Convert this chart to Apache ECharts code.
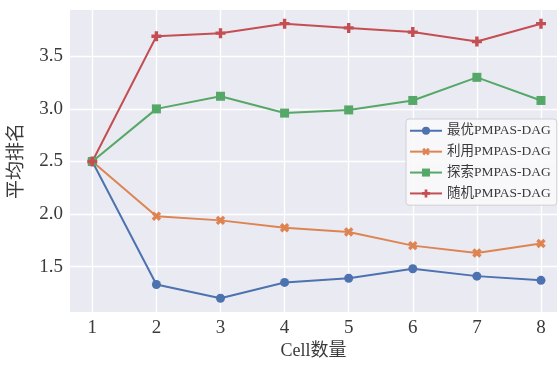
<!DOCTYPE html>
<html>
<head>
<meta charset="utf-8">
<script src="https://cdn.jsdelivr.net/npm/echarts@6/dist/echarts.min.js"></script>
<style>
  html, body { margin: 0; padding: 0; background: #ffffff; }
  #chart { width: 559px; height: 365px; }
</style>
</head>
<body>
<div id="chart"></div>
<script>
// Number of cells on the x axis
const cellCounts = [1, 2, 3, 4, 5, 6, 7, 8];

// Average rank per strategy
const bestRank    = [2.50, 1.33, 1.20, 1.35, 1.39, 1.48, 1.41, 1.37];
const exploitRank = [2.50, 1.98, 1.94, 1.87, 1.83, 1.70, 1.63, 1.72];
const exploreRank = [2.50, 3.00, 3.12, 2.96, 2.99, 3.08, 3.30, 3.08];
const randomRank  = [2.50, 3.69, 3.72, 3.81, 3.77, 3.73, 3.64, 3.81];

const seriesNames = ['最优PMPAS-DAG', '利用PMPAS-DAG', '探索PMPAS-DAG', '随机PMPAS-DAG'];

// Tick positions
const xTicks = [1, 2, 3, 4, 5, 6, 7, 8];
const yTicks = [1.5, 2.0, 2.5, 3.0, 3.5];

const serif = '"Liberation Serif", "Noto Sans CJK SC", serif';
const textColor = '#3a3a3a';
const plusPath = 'path://M3.3,0H6.7V3.3H10V6.7H6.7V10H3.3V6.7H0V3.3H3.3Z';

function pairs(values) {
  return cellCounts.map((c, i) => [c, values[i]]);
}

function lineSeries(name, values, color, symbol, size, rotate) {
  return {
    name: name,
    type: 'line',
    data: pairs(values),
    symbol: symbol,
    symbolSize: size,
    symbolRotate: rotate || 0,
    showAllSymbol: true,
    clip: false,
    lineStyle: { color: color, width: 2 },
    itemStyle: { color: color, borderWidth: 0 },
    emphasis: { disabled: true },
    z: 3
  };
}

const chart = echarts.init(document.getElementById('chart'), null, { renderer: 'canvas' });

chart.setOption({
  animation: false,
  backgroundColor: '#ffffff',
  grid: {
    left: 70, right: 2, top: 10, bottom: 46,
    show: true,
    backgroundColor: '#EAEAF2',
    borderWidth: 0
  },
  xAxis: {
    type: 'value',
    min: 0.652,
    max: 8.25,
    name: 'Cell数量',
    nameLocation: 'middle',
    nameGap: 24,
    nameTextStyle: { fontFamily: serif, fontSize: 18, color: textColor },
    axisLine: { show: false },
    axisTick: { show: false, customValues: xTicks },
    axisLabel: {
      customValues: xTicks,
      fontFamily: serif, fontSize: 19, color: textColor, margin: 6
    },
    splitLine: { show: true, lineStyle: { color: '#ffffff', width: 1.3 } }
  },
  yAxis: {
    type: 'value',
    min: 1.068,
    max: 3.94,
    name: '平均排名',
    nameLocation: 'middle',
    nameGap: 43,
    nameRotate: 90,
    nameTextStyle: { fontFamily: serif, fontSize: 19, color: textColor },
    axisLine: { show: false },
    axisTick: { show: false, customValues: yTicks },
    axisLabel: {
      customValues: yTicks,
      formatter: v => v.toFixed(1),
      fontFamily: serif, fontSize: 19, color: textColor, margin: 7
    },
    splitLine: { show: true, lineStyle: { color: '#ffffff', width: 1.3 } }
  },
  legend: {
    orient: 'vertical',
    left: 406,
    top: 119,
    padding: [5, 6, 5, 3],
    itemWidth: 32,
    itemHeight: 10,
    itemGap: 7.4,
    backgroundColor: 'rgba(249,249,251,0.9)',
    borderColor: '#cfcfd6',
    borderWidth: 1,
    borderRadius: 3,
    textStyle: { fontFamily: serif, fontSize: 13.5, color: textColor },
    data: seriesNames
  },
  series: [
    lineSeries(seriesNames[0], bestRank, '#4C72B0', 'circle', 9),
    lineSeries(seriesNames[1], exploitRank, '#DD8452', plusPath, 10, 45),
    lineSeries(seriesNames[2], exploreRank, '#55A868', 'rect', 9),
    lineSeries(seriesNames[3], randomRank, '#C44E52', plusPath, 10)
  ]
});
</script>
</body>
</html>
